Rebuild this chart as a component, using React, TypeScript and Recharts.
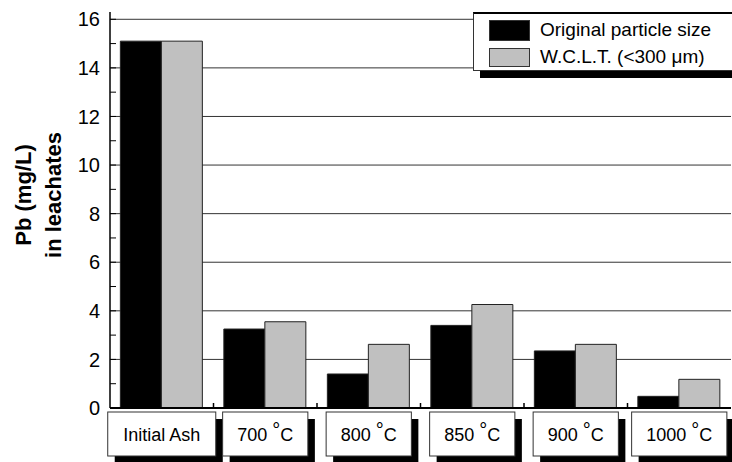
import { BarChart, Bar, XAxis, YAxis, CartesianGrid } from 'recharts';

const categories = ['Initial Ash', '700 °C', '800 °C', '850 °C', '900 °C', '1000 °C'];
const originalSize = [15.1, 3.25, 1.4, 3.4, 2.35, 0.48];
const wclt = [15.1, 3.55, 2.62, 4.26, 2.62, 1.18];
const seriesNames = ['Original particle size', 'W.C.L.T. (<300 μm)'];
const seriesColors = ['#000000', '#c0c0c0'];
const yTicks = [0, 1, 2, 3, 4, 5, 6, 7, 8, 9, 10, 11, 12, 13, 14, 15, 16];
const gridValues = [2, 4, 6, 8, 10, 12, 14, 16];

const data = categories.map((name, i) => ({ name, original: originalSize[i], wclt: wclt[i] }));

const FONT = "'Liberation Sans', Arial, Helvetica, sans-serif";

let ctx: CanvasRenderingContext2D | null = null;
const measure = (s: string, font: string) => {
  if (!ctx) ctx = document.createElement('canvas').getContext('2d');
  if (!ctx) return s.length * 9;
  ctx.font = font;
  return ctx.measureText(s).width;
};

// boxed category labels with a black drop shadow, plus the small tick at the left band edge
const CategoryTick = (props: any) => {
  const { x, y, payload, index, width, visibleTicksCount } = props;
  const label: string = payload.value;
  const w = measure(label, `18px ${FONT}`) + 30;
  const h = 44;
  const top = y - 4;
  const axisY = y - 8;
  let half: number | null = null;
  if (typeof payload.offset === 'number' && payload.offset > 0) half = payload.offset;
  else if (Number(width) > 0 && Number(visibleTicksCount) > 0) half = Number(width) / Number(visibleTicksCount) / 2;
  const parts = label.split(' °');
  return (
    <g>
      {half !== null && index > 0 && (
        <line x1={x - half} x2={x - half} y1={axisY} y2={axisY - 5} stroke="#000" strokeWidth={1.5} />
      )}
      <rect x={x - w / 2 + 7} y={top + 7} width={w} height={h} fill="#000" />
      <rect x={x - w / 2} y={top} width={w} height={h} fill="#fff" stroke="#333" strokeWidth={1} />
      <text x={x} y={top + h / 2 + 7} textAnchor="middle" fontSize={18} fill="#000">
        {parts.length > 1 ? (
          <>
            <tspan>{parts[0] + ' '}</tspan>
            <tspan dy={-4} fontSize={20}>°</tspan>
            <tspan dy={4}>{parts[1]}</tspan>
          </>
        ) : (
          label
        )}
      </text>
    </g>
  );
};

const YLabel = (props: any) => {
  const vb = props.viewBox || { x: 0, y: 12, width: 110, height: 396 };
  const cy = vb.y + vb.height / 2 - 15;
  return (
    <g fontWeight="bold" fontSize={22} fill="#000">
      <text x={31} y={cy} textAnchor="middle" transform={`rotate(-90, 31, ${cy})`}>Pb (mg/L)</text>
      <text x={61} y={cy} textAnchor="middle" transform={`rotate(-90, 61, ${cy})`}>in leachates</text>
    </g>
  );
};

export default function App() {
  return (
    <div style={{ position: 'absolute', left: 0, top: 0, width: 732, height: 462, fontFamily: FONT, background: '#fff' }}>
      <BarChart
        width={732}
        height={462}
        data={data}
        margin={{ top: 12, right: 1, bottom: 0, left: 0 }}
        barCategoryGap="10%"
        barGap={0}
      >
        <CartesianGrid xAxisId={1} yAxisId={0} vertical={false} horizontalValues={gridValues} stroke="#333" strokeWidth={1} />
        <XAxis
          xAxisId={1}
          dataKey="name"
          height={54}
          interval={0}
          tickLine={false}
          axisLine={{ stroke: '#000', strokeWidth: 2 }}
          tick={<CategoryTick />}
        />
        <XAxis
          xAxisId={2}
          orientation="top"
          type="number"
          domain={[0, 1]}
          height={0}
          tick={false}
          tickLine={false}
          axisLine={{ stroke: '#000', strokeWidth: 2 }}
        />
        <YAxis
          yAxisId={0}
          domain={[0, 16.3]}
          allowDataOverflow
          ticks={yTicks}
          interval={0}
          width={110}
          tickSize={-6}
          tickMargin={16}
          tickLine={{ stroke: '#000' }}
          axisLine={{ stroke: '#000', strokeWidth: 1.5 }}
          tickFormatter={(v: number) => (v % 2 === 0 ? String(v) : '')}
          tick={{ fill: '#000', fontSize: 20 }}
          label={{ content: (p: any) => <YLabel {...p} /> }}
        />
        <YAxis
          yAxisId={1}
          orientation="right"
          width={0}
          domain={[0, 1]}
          tick={false}
          tickLine={false}
          axisLine={{ stroke: '#000', strokeWidth: 1.5 }}
        />
        <Bar xAxisId={1} yAxisId={0} dataKey="original" name={seriesNames[0]} fill={seriesColors[0]} stroke="#222" strokeWidth={1} isAnimationActive={false} />
        <Bar xAxisId={1} yAxisId={0} dataKey="wclt" name={seriesNames[1]} fill={seriesColors[1]} stroke="#222" strokeWidth={1} isAnimationActive={false} />
      </BarChart>
      <div
        style={{
          position: 'absolute',
          left: 473,
          top: 12,
          width: 275,
          height: 59,
          boxSizing: 'border-box',
          background: '#fff',
          border: '1px solid #333',
          borderTop: '2px solid #000',
          boxShadow: '7px 7px 0 #000',
        }}
      >
        {seriesNames.map((n, i) => (
          <div key={n} style={{ position: 'absolute', left: 15, top: 5 + i * 27, height: 22, display: 'flex', alignItems: 'center' }}>
            <div style={{ width: 41, height: i === 0 ? 21 : 19, background: seriesColors[i], border: '1px solid #333', boxSizing: 'border-box' }} />
            <span style={{ marginLeft: 10, fontSize: 19, whiteSpace: 'nowrap', color: '#000' }}>{n}</span>
          </div>
        ))}
      </div>
    </div>
  );
}
